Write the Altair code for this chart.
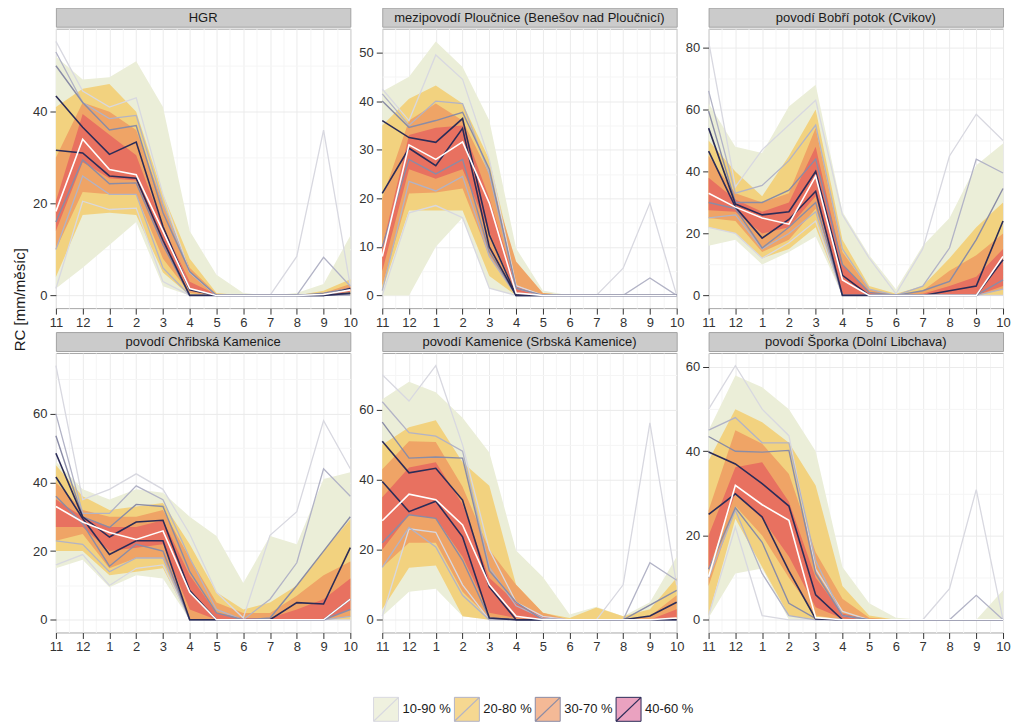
import altair as alt
import pandas as pd

FONT = "Liberation Sans"
MONTHS = ["11", "12", "1", "2", "3", "4", "5", "6", "7", "8", "9", "10"]
TITLES = [
    "HGR",
    "mezipovodí Ploučnice (Benešov nad Ploučnicí)",
    "povodí Bobří potok (Cvikov)",
    "povodí Chřibská Kamenice",
    "povodí Kamenice (Srbská Kamenice)",
    "povodí Šporka (Dolní Libchava)",
]
BANDS = ["10-90 %", "20-80 %", "30-70 %", "40-60 %"]
MAJOR_STEP = [20, 10, 20, 20, 20, 20]

# ---------------- HGR ----------------
p1_b90 = [52, 47, 47.5, 51, 41, 14, 4.5, 0.5, 0, 0.5, 2.5, 13]
p1_b10 = [1.5, 6, 11, 16, 2, 0, 0, 0, 0, 0, 0, 0]
p1_b80 = [41, 45, 46, 40, 22, 8, 0.5, 0, 0, 0, 1, 3.5]
p1_b20 = [4, 17.5, 18, 17.5, 5, 0, 0, 0, 0, 0, 0, 0]
p1_b70 = [30, 42, 40, 36, 20, 6, 0.3, 0, 0, 0, 0.5, 2.5]
p1_b30 = [10, 22.5, 22, 22, 8, 0.5, 0, 0, 0, 0, 0, 1]
p1_b60 = [20.5, 39.5, 35, 30.5, 15, 3, 0.2, 0, 0, 0, 0.3, 1.8]
p1_b40 = [14, 29, 25.5, 25, 11, 1, 0, 0, 0, 0, 0, 0.8]
p1_med = [18.3, 34, 27.4, 26.3, 14, 1.5, 0, 0, 0, 0, 0.2, 1.2]
p1_l90 = [55.3, 44.5, 41, 43, 22, 5, 0, 0, 0, 8.5, 36, 2]
p1_l10 = [1.5, 20.5, 18.7, 19, 3, 0, 0, 0, 0, 0, 0, 0]
p1_l80 = [53, 42, 38.5, 39.2, 20, 5, 0, 0, 0, 0, 8.3, 2]
p1_l20 = [10, 26, 22, 22, 6, 0, 0, 0, 0, 0, 0, 0]
p1_l70 = [50, 42, 36, 37, 18, 5.2, 0, 0, 0, 0, 0.5, 1.5]
p1_l30 = [16, 29.5, 24.3, 24.5, 11, 0, 0, 0, 0, 0, 0, 0.3]
p1_l60 = [43.4, 36.6, 30.7, 33.4, 15, 1.2, 0, 0, 0, 0, 0, 1.5]
p1_l40 = [31.6, 31, 26, 25.5, 12, 0, 0, 0, 0, 0, 0, 0.5]

# ---------------- mezipovodí Ploučnice ----------------
p2_b90 = [42, 45, 52.3, 47, 36, 9.7, 1, 0, 0, 0, 0, 0]
p2_b10 = [0, 0, 10, 16, 1.5, 0, 0, 0, 0, 0, 0, 0]
p2_b80 = [35, 40.5, 43.2, 39.5, 28, 5, 0.5, 0, 0, 0, 0, 0]
p2_b20 = [1, 17.5, 17.5, 17.5, 4, 0, 0, 0, 0, 0, 0, 0]
p2_b70 = [20, 36, 39.5, 36, 25, 7, 0.5, 0, 0, 0, 0, 0]
p2_b30 = [2, 21, 21.2, 22, 8, 0, 0, 0, 0, 0, 0, 0]
p2_b60 = [10, 33, 34.5, 35, 20, 2, 0, 0, 0, 0, 0, 0]
p2_b40 = [5, 26, 24, 26, 13, 0.5, 0, 0, 0, 0, 0, 0]
p2_med = [8, 31, 28, 31.6, 19, 0.5, 0, 0, 0, 0, 0, 0]
p2_l90 = [42.5, 36, 49.5, 44.5, 28, 2, 0, 0, 0, 5.6, 19, 0]
p2_l10 = [0, 17, 18.5, 16, 1.5, 0, 0, 0, 0, 0, 0, 0]
p2_l80 = [41.5, 35, 40, 39.5, 25, 1.5, 0, 0, 0, 0, 3.6, 0]
p2_l20 = [1, 23.5, 21.5, 24.5, 8, 0, 0, 0, 0, 0, 0, 0]
p2_l70 = [40, 34.6, 36, 37.7, 26, 1.5, 0, 0, 0, 0, 0, 0]
p2_l30 = [10, 28, 25, 28, 9, 0, 0, 0, 0, 0, 0, 0]
p2_l60 = [36, 32.5, 31.5, 36.4, 12.5, 0, 0, 0, 0, 0, 0, 0]
p2_l40 = [21, 30.3, 26.7, 34.4, 10, 0, 0, 0, 0, 0, 0, 0]

# ---------------- povodí Bobří potok ----------------
p3_b90 = [62, 48, 46, 61, 68, 27, 13, 2, 16, 25, 42, 49]
p3_b10 = [16, 18, 10, 14, 19, 0, 0, 0, 0, 0, 0, 0]
p3_b80 = [50, 40, 32, 45, 60, 18, 3, 0.5, 3, 12, 22, 30]
p3_b20 = [22, 20, 12, 15, 22, 0, 0, 0, 0, 0, 0, 0]
p3_b70 = [45, 33, 30, 33, 54, 14, 2, 0, 1.5, 8, 13, 20]
p3_b30 = [25, 24, 14, 18, 28, 0, 0, 0, 0, 0, 0, 2]
p3_b60 = [38, 31, 27, 30, 48, 10, 1, 0, 0.5, 3, 6, 15]
p3_b40 = [27.5, 27, 20, 22, 32, 0, 0, 0, 0, 0, 0, 3]
p3_med = [33, 28.5, 25, 23, 38.5, 5, 0, 0, 0, 0, 0, 12.6]
p3_l90 = [82, 35, 47, 55, 63, 26, 12, 0.5, 15, 45, 58.5, 50]
p3_l10 = [22, 20, 12, 17, 24, 0, 0, 0, 0, 0, 0, 0]
p3_l80 = [66, 33, 35.5, 43.5, 55, 15, 2, 0, 3, 15.3, 44, 39.5]
p3_l20 = [25, 26, 15, 20, 27, 0, 0, 0, 0, 0, 0, 2]
p3_l70 = [59.5, 30, 30, 34, 44, 10, 1, 0, 1.5, 4.5, 18, 34.5]
p3_l30 = [30, 28, 15.3, 22, 30, 0, 0, 0, 0, 0, 0, 5]
p3_l60 = [54, 29.5, 26, 27, 40, 6.5, 0, 0, 0, 1.5, 3, 24]
p3_l40 = [46.6, 28.5, 18.5, 24.5, 33.6, 0, 0, 0, 0, 0, 0, 11.5]

# ---------------- povodí Chřibská Kamenice ----------------
p4_b90 = [46, 38, 35, 38, 37, 30, 24.4, 10.7, 24.4, 22, 41, 43]
p4_b10 = [15, 17.5, 9.5, 13, 12, 0, 0, 0, 0, 0, 0, 0]
p4_b80 = [45, 36, 32, 33, 34, 22, 8, 3, 5, 10, 20, 29.3]
p4_b20 = [20, 20, 13, 14, 15, 0, 0, 0, 0, 0, 0, 0]
p4_b70 = [40, 32, 30, 30, 32, 18, 5, 2, 2, 7, 13, 17]
p4_b30 = [23, 25, 15, 18, 18, 0, 0, 0, 0, 0, 0, 1]
p4_b60 = [35, 30, 27, 27, 29, 13, 2, 0.5, 0.5, 3, 6, 12]
p4_b40 = [27, 27, 20, 21, 22, 3, 0, 0, 0, 0, 0, 3]
p4_med = [33, 28.5, 25.4, 23.4, 25.9, 8, 0, 0, 0, 0, 0, 6]
p4_l90 = [74, 35, 38, 42.5, 38, 25, 8, 0.5, 24.6, 31.5, 58, 44]
p4_l10 = [16, 19, 10, 15, 16, 0, 0, 0, 0, 0, 0, 0]
p4_l80 = [60, 31, 31, 39, 35, 18, 3, 0, 6, 16.6, 44, 36]
p4_l20 = [23, 22, 14, 18, 18, 0, 0, 0, 0, 0, 0, 1]
p4_l70 = [53.6, 30, 26.9, 33.6, 33, 14, 2, 0, 0.5, 10, 20, 30]
p4_l30 = [36, 28, 15.6, 22, 20, 0, 0, 0, 0, 0, 0, 3]
p4_l60 = [48.5, 30, 24.1, 28.5, 29, 8.5, 0, 0, 0, 5, 4.6, 21]
p4_l40 = [41.6, 29.5, 19, 23, 23, 0, 0, 0, 0, 0, 0, 6]

# ---------------- povodí Kamenice ----------------
p5_b90 = [63, 68, 65, 57.7, 47.8, 19.8, 12.2, 1.5, 3.7, 1, 5, 18]
p5_b10 = [1, 8, 8.9, 1, 0, 0, 0, 0, 0, 0, 0, 0]
p5_b80 = [50, 55, 57, 45, 38.3, 10, 2, 0.5, 3.5, 1, 3, 12]
p5_b20 = [3, 14.9, 15.5, 1, 0, 0, 0, 0, 0, 0, 0, 0]
p5_b70 = [43, 51, 50.8, 38, 20, 10, 2, 0, 0, 0, 1, 7]
p5_b30 = [15, 22, 22, 8, 0.5, 0, 0, 0, 0, 0, 0, 0.5]
p5_b60 = [35, 43.5, 45, 33, 12, 5, 1, 0, 0, 0, 0, 3]
p5_b40 = [20, 30, 29, 18, 2, 0.5, 0, 0, 0, 0, 0, 0.5]
p5_med = [28.3, 35.9, 34.3, 27.1, 10, 1, 0, 0, 0, 0, 0, 0.5]
p5_l90 = [70, 62.5, 72.6, 50, 20, 5, 1, 0, 0, 10, 56.3, 9.9]
p5_l10 = [1, 26, 25, 10, 0, 0, 0, 0, 0, 0, 0, 0]
p5_l80 = [62.3, 53.5, 52.5, 48.2, 15, 4, 0.5, 0, 0, 0, 16.3, 11.3]
p5_l20 = [15, 26.4, 20.8, 7, 0, 0, 0, 0, 0, 0, 0, 0]
p5_l70 = [56.5, 46.2, 46.5, 46.2, 14, 5, 0, 0, 0, 0, 4.2, 8.4]
p5_l30 = [22, 30, 29, 17, 0.5, 0, 0, 0, 0, 0, 0, 0]
p5_l60 = [51, 42, 43.3, 34.2, 9.4, 0, 0, 0, 0, 0, 1.1, 5]
p5_l40 = [39.5, 30.9, 33.9, 23.7, 0.5, 0, 0, 0, 0, 0, 0, 0]

# ---------------- povodí Šporka ----------------
p6_b90 = [45, 58, 55.2, 50, 40, 12.5, 3.9, 0.5, 0, 0, 0, 7]
p6_b10 = [0.5, 11, 12.2, 0, 0, 0, 0, 0, 0, 0, 0, 0]
p6_b80 = [37.8, 50, 46.9, 42, 31.9, 8, 1, 0, 0, 0, 0, 0]
p6_b20 = [1, 24, 12.5, 1, 0, 0, 0, 0, 0, 0, 0, 0]
p6_b70 = [26, 45, 41.8, 34.6, 16, 5, 0.5, 0, 0, 0, 0, 0]
p6_b30 = [8, 27, 20, 10, 1, 0, 0, 0, 0, 0, 0, 0]
p6_b60 = [20, 36.2, 37.4, 28, 10, 1.5, 0, 0, 0, 0, 0, 0]
p6_b40 = [12, 30, 24, 15, 3, 0.3, 0, 0, 0, 0, 0, 0]
p6_med = [10.2, 31.9, 27.3, 23.6, 0.5, 0, 0, 0, 0, 0, 0, 0]
p6_l90 = [50, 60.3, 50, 43.7, 12, 2, 0, 0, 0, 7.4, 30.9, 0]
p6_l10 = [1, 22, 1, 0, 0, 0, 0, 0, 0, 0, 0, 0]
p6_l80 = [45, 48, 42, 42, 14, 1, 0, 0, 0, 0, 5.8, 0]
p6_l20 = [10, 26, 11, 1, 0, 0, 0, 0, 0, 0, 0, 0]
p6_l70 = [43.5, 40, 39.8, 40.2, 11, 1, 0, 0, 0, 0, 0, 0]
p6_l30 = [12, 26.6, 18.4, 3.9, 0.3, 0, 0, 0, 0, 0, 0, 0]
p6_l60 = [39.8, 37, 32.3, 27, 5.9, 0, 0, 0, 0, 0, 0, 0]
p6_l40 = [25, 29.9, 24.4, 11.6, 0.2, 0, 0, 0, 0, 0, 0, 0]

PANELS = []
for pre in ["p1", "p2", "p3", "p4", "p5", "p6"]:
    g = globals()
    PANELS.append({
        "bands": [(g[pre + "_b10"], g[pre + "_b90"]), (g[pre + "_b20"], g[pre + "_b80"]),
                  (g[pre + "_b30"], g[pre + "_b70"]), (g[pre + "_b40"], g[pre + "_b60"])],
        "lines": [(g[pre + "_l10"], g[pre + "_l90"]), (g[pre + "_l20"], g[pre + "_l80"]),
                  (g[pre + "_l30"], g[pre + "_l70"]), (g[pre + "_l40"], g[pre + "_l60"])],
        "med": g[pre + "_med"],
    })

# ---------------- styling ----------------
BAND_FILL = ["#EBEED8", "#F2D27F", "#EFA466", "#E87160"]
LINE_COLORS = ["#D8D8E0", "#B2B3C6", "#8A8CA6", "#2B2C58"]
LINE_WIDTH = [1.3, 1.3, 1.4, 1.6]
LEG_FILL = ["#EFF1DF", "#F6D891", "#F4B996", "#EAA2C0"]
GRID_MAJ = "#EBEBEB"
GRID_MIN = "#F5F5F5"
W, H, SH = 295, 280, 19

month_expr = "[" + ",".join("'" + m + "'" for m in MONTHS) + "]"
x_vals = [i / 2 for i in range(23)]
X_AXIS = alt.Axis(
    values=x_vals, title=None,
    labelExpr="datum.value % 1 === 0 ? " + month_expr + "[datum.value] : ''",
    tickOpacity={"condition": {"test": "datum.value % 1 === 0", "value": 1}, "value": 0},
    gridColor={"condition": {"test": "datum.value % 1 === 0", "value": GRID_MAJ}, "value": GRID_MIN},
    labelFlush=False, labelOverlap=False, domain=False, tickSize=6, labelPadding=2,
)
X_SCALE = alt.Scale(domain=[0, 11], nice=False, zero=False)


def make_panel(k):
    d = PANELS[k]
    allv = [v for pair in d["bands"] + d["lines"] for arr in pair for v in arr] + list(d["med"])
    M = max(allv)
    dom = [-0.05 * M, 1.05 * M]
    step = MAJOR_STEP[k]
    half = step / 2
    y_vals = [i * half for i in range(int(dom[1] // half) + 1)]
    y_axis = alt.Axis(
        values=y_vals, title=None,
        labelExpr="datum.value % " + str(step) + " === 0 ? datum.label : ''",
        tickOpacity={"condition": {"test": "datum.value % " + str(step) + " === 0", "value": 1}, "value": 0},
        gridColor={"condition": {"test": "datum.value % " + str(step) + " === 0", "value": GRID_MAJ}, "value": GRID_MIN},
        labelFlush=False, labelOverlap=False, domain=False, tickSize=6, labelPadding=3,
    )
    y_scale = alt.Scale(domain=dom, nice=False, zero=False)

    layers = []
    for b, (lo, hi) in enumerate(d["bands"]):
        df = pd.DataFrame({"idx": list(range(12)), "lo": lo, "hi": hi})
        layers.append(
            alt.Chart(df).mark_area(color=BAND_FILL[b], opacity=1).encode(
                x=alt.X("idx:Q", scale=X_SCALE, axis=X_AXIS),
                y=alt.Y("lo:Q", scale=y_scale, axis=y_axis),
                y2="hi:Q",
            )
        )
    for b, (lo, hi) in enumerate(d["lines"]):
        rows = []
        for name, arr in (("lower", lo), ("upper", hi)):
            for i, v in enumerate(arr):
                rows.append({"idx": i, "value": v, "series": name})
        df = pd.DataFrame(rows)
        layers.append(
            alt.Chart(df).mark_line(color=LINE_COLORS[b], strokeWidth=LINE_WIDTH[b]).encode(
                x=alt.X("idx:Q", scale=X_SCALE, axis=X_AXIS),
                y=alt.Y("value:Q", scale=y_scale, axis=y_axis),
                detail="series:N",
            )
        )
    dfm = pd.DataFrame({"idx": list(range(12)), "value": d["med"]})
    layers.append(
        alt.Chart(dfm).mark_line(color="white", strokeWidth=1.6).encode(
            x=alt.X("idx:Q", scale=X_SCALE, axis=X_AXIS),
            y=alt.Y("value:Q", scale=y_scale, axis=y_axis),
        )
    )
    plot = alt.layer(*layers).properties(width=W, height=H)

    strip = alt.Chart(pd.DataFrame({"t": [TITLES[k]]})).mark_text(
        fontSize=13, font=FONT, color="#1A1A1A", baseline="middle", align="center"
    ).encode(
        text="t:N", x=alt.value(W / 2), y=alt.value(SH / 2 + 0.5)
    ).properties(width=W, height=SH, view=alt.ViewBackground(fill="#CBCBCB", stroke="#A3A3A3"))

    return alt.vconcat(strip, plot, spacing=0)


row1 = alt.hconcat(make_panel(0), make_panel(1), make_panel(2), spacing=0)
row2 = alt.hconcat(make_panel(3), make_panel(4), make_panel(5), spacing=0)
rows = alt.vconcat(
    row1, row2, spacing=1,
    title=alt.TitleParams("RC [mm/měsíc]", orient="left", anchor="middle", fontSize=15,
                          fontWeight="normal", font=FONT, color="#1A1A1A", offset=4, dx=31),
)

# ---------------- legend ----------------
ITEM = 81
LW = 3 * W + 2 * 30
OFF = 318.3 / ITEM
leg_df = pd.DataFrame({"i": list(range(4)), "label": BANDS})
lx = alt.Scale(domain=[-OFF, LW / ITEM - OFF], range=[0, LW], nice=False, zero=False)
fill_sc = alt.Scale(domain=BANDS, range=LEG_FILL)
stroke_sc = alt.Scale(domain=BANDS, range=LINE_COLORS)
leg_base = alt.Chart(leg_df).transform_calculate(i2="datum.i + 25/" + str(ITEM))
leg_rect = leg_base.mark_rect(strokeWidth=1).encode(
    x=alt.X("i:Q", scale=lx, axis=None), x2="i2:Q",
    y=alt.value(0), y2=alt.value(24),
    fill=alt.Fill("label:N", scale=fill_sc, legend=None),
    stroke=alt.Stroke("label:N", scale=stroke_sc, legend=None),
)
leg_diag = leg_base.mark_rule(strokeWidth=1.2).encode(
    x=alt.X("i:Q", scale=lx, axis=None), x2="i2:Q",
    y=alt.value(24), y2=alt.value(0),
    color=alt.Color("label:N", scale=stroke_sc, legend=None),
)
leg_text = leg_base.mark_text(align="left", baseline="middle", dx=29, fontSize=13, font=FONT, color="#1A1A1A").encode(
    x=alt.X("i:Q", scale=lx, axis=None), y=alt.value(12), text="label:N",
)
legend = alt.layer(leg_rect, leg_diag, leg_text).properties(
    width=LW, height=24, view=alt.ViewBackground(stroke="transparent")
)

chart = alt.vconcat(rows, legend, spacing=41).properties(
    padding={"top": -2, "left": 5, "right": 5, "bottom": 5}
).configure(font=FONT).configure_axis(
    labelFont=FONT, labelFontSize=13, labelColor="#333333", tickColor="#333333", tickWidth=1,
).configure_view(stroke="#A8A8A8")

chart.save("out.html", embed_options={"renderer": "svg", "actions": False})
